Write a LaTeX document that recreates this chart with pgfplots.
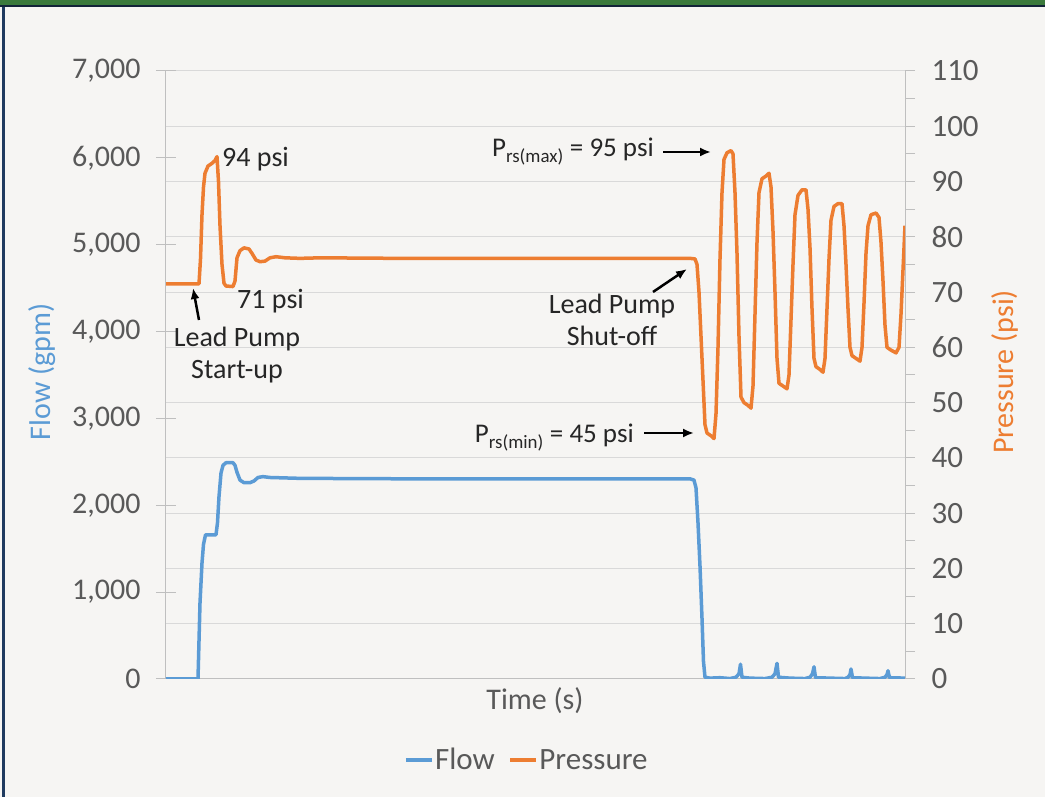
\documentclass[border=0pt]{standalone}
\usepackage{fontspec}
\setmainfont{Carlito}
\usepackage{pgfplots}
\pgfplotsset{compat=1.18}
\usetikzlibrary{arrows.meta}
\definecolor{flowc}{HTML}{5B9BD5}
\definecolor{presc}{HTML}{ED7D31}
\definecolor{tickc}{HTML}{595959}
\definecolor{gridc}{HTML}{D9D9D9}
\definecolor{axisc}{HTML}{BFBFBF}
\definecolor{bgc}{HTML}{F6F5F3}
\definecolor{greenb}{HTML}{3B7A3C}
\definecolor{navy}{HTML}{1F3A5F}
\newcommand{\tk}{\fontsize{30}{36}\selectfont}
\newcommand{\tkr}{\fontsize{31}{36}\selectfont}
\newcommand{\an}{\fontsize{28}{32}\selectfont}
\newcommand{\anp}{\fontsize{27}{32}\selectfont}
\begin{document}
\begin{tikzpicture}
\useasboundingbox (0,0) rectangle (1045pt,797pt);
\fill[bgc] (0,0) rectangle (1045pt,797pt);
\fill[greenb] (0,791pt) rectangle (1045pt,797pt);
\fill[navy!60!black] (0,789.5pt) rectangle (1045pt,791.5pt);
\fill[navy] (2pt,0) rectangle (4.5pt,790pt);

\begin{axis}[
  at={(166pt,118pt)}, anchor=south west, scale only axis,
  width=739pt, height=608pt,
  xmin=166, xmax=905, ymin=0, ymax=110,
  axis x line=none, axis y line*=right,
  axis line style={-, draw=axisc, line width=1pt},
  xtick=\empty,
  ytick={0,10,...,110}, minor y tick num=1,
  tick align=outside, major tick length=10pt, minor tick length=10pt,
  every tick/.style={draw=axisc, line width=1pt},
  ymajorgrids, grid style={draw=gridc, line width=1pt},
  /pgf/number format/assume math mode=true,
  ticklabel style={font=\tkr, text=tickc},
  yticklabel style={xshift=13pt},
  ylabel={Pressure (psi)},
  ylabel style={at={(axis description cs:1.1353,0.505)}, anchor=center, font=\tk, text=presc},
  legend style={at={(axis description cs:0.488,-0.133)}, anchor=center, draw=none, fill=none,
    legend columns=2, font=\fontsize{31}{36}\selectfont, text=tickc, inner sep=0pt,
    /tikz/every even column/.append style={column sep=12pt},
    nodes={inner xsep=1.5pt}},
  legend cell align=left,
  legend image code/.code={\draw[#1] (0pt,0pt) -- (26pt,0pt);},
]
\addlegendimage{flowc, line width=3.5pt}
\addlegendentry{Flow}
\addplot[presc, line width=3.5pt, line join=round] coordinates {
(166,71.5) (199,71.5) (200.5,76) (202,84) (203.5,89) (205,91.5) (208,92.8) (212,93.3) (215,93.8) (217,94.5)
(218.5,90) (220,82) (222,75) (224,71.6) (226,71.1) (233,71) (235,72) (237,76.2) (240,77.5) (244,78)
(249,77.8) (252,77) (256,75.8) (260,75.5) (265,75.6) (270,76.2) (276,76.4) (285,76.2) (300,76.1)
(320,76.2) (400,76.1) (500,76.1) (600,76.1) (690,76.1) (695,76) (697,75) (699,70) (701,62) (703,54)
(705,46) (707,44.5) (711,44) (714,43.5) (716,48) (718,60) (720,76) (722,88) (724,94) (727,95.2)
(731,95.6) (733,95) (735,88) (737,77) (739,62) (741,51) (744,50) (748,49.5) (751,49) (753,53)
(755,66) (757,79) (759,88) (762,90.5) (766,91) (769,91.5) (771,89) (773,81) (775,70) (777,58)
(779,53.5) (783,53) (787,52.5) (789,55) (791,65) (793,75) (795,84) (798,87.5) (802,88.5) (806,88.5)
(808,85) (810,78) (812,67) (814,58) (816,56.5) (820,56) (823,55.5) (825,58) (827,67) (829,76)
(831,83) (834,85.5) (838,86) (842,86) (844,82) (846,75) (848,67) (850,60) (852,58.5) (856,58)
(860,57.5) (862,60) (864,68) (866,77) (868,82) (871,84) (876,84.3) (879,83.5) (881,79) (883,72)
(885,64) (887,60) (891,59.5) (896,59) (899,60) (901,66) (903,74) (905,82)
};
\addlegendentry{Pressure}
\end{axis}

\begin{axis}[
  at={(166pt,118pt)}, anchor=south west, scale only axis,
  width=739pt, height=608pt,
  xmin=166, xmax=905, ymin=0, ymax=7000,
  axis x line*=bottom, axis y line*=left,
  axis line style={-, draw=axisc, line width=1pt},
  xtick=\empty,
  ytick={0,1000,...,7000},
  tick align=center, major tick length=20pt,
  every tick/.style={draw=axisc, line width=1pt},
  /pgf/number format/assume math mode=true,
  /pgf/number format/1000 sep={,},
  ticklabel style={font=\tk, text=tickc},
  yticklabel style={xshift=-12pt},
  ylabel={Flow (gpm)},
  ylabel style={at={(axis description cs:-0.168,0.505)}, anchor=center, font=\tk, text=flowc},
  xlabel={Time (s)},
  xlabel style={at={(axis description cs:0.4993,-0.036)}, anchor=center, font=\tk, text=tickc},
]
\addplot[flowc, line width=3.5pt, line join=round] coordinates {
(166,0) (198,0) (200,875) (202,1335) (203.5,1550) (205.5,1660) (216,1660) (217.5,1800) (219,2100)
(221,2370) (223,2460) (226,2490) (233,2490) (235,2460) (237,2380) (240,2290) (244,2260) (250,2260)
(254,2280) (258,2320) (263,2330) (270,2320) (300,2310) (400,2305) (500,2305) (600,2305) (690,2305)
(694,2290) (696,2200) (698,1800) (700,1300) (702,700) (703.5,200) (705,20) (710,10) (720,15) (730,5)
(736,20) (739,60) (740.5,170) (742,20) (750,10) (765,5) (772,20) (775,60) (777,180) (778.5,20)
(790,10) (805,5) (810,20) (812.5,60) (814,140) (815.5,15) (830,10) (845,5) (848,20) (850,50)
(851,115) (852.5,15) (865,10) (880,5) (885,20) (887,50) (888,95) (889.5,15) (905,10)
};
\end{axis}

\begin{scope}[x=1pt, y=-1pt, yshift=797pt, every node/.style={inner sep=0pt, font=\an, text=black!85}]
\node[anchor=base west] at (222,167) {94 psi};
\node[anchor=base west] at (237,309) {71 psi};
\node[anchor=base] at (237,347) {Lead Pump};
\node[anchor=base] at (237,379) {Start-up};
\node[anchor=base] at (612,314) {Lead Pump};
\node[anchor=base] at (612,346) {Shut-off};
\node[anchor=base east, font=\anp] at (654,157) {P\textsubscript{rs(max)} = 95 psi};
\node[anchor=base east, font=\anp] at (634,443) {P\textsubscript{rs(min)} = 45 psi};
\begin{scope}[black, line width=2.5pt, -{Latex[length=11pt,width=9pt]}]
\draw (199,320) -- (193,288);
\draw (653,292) -- (687,269);
\draw (663,152) -- (711,152);
\draw (644,433) -- (694,433);
\end{scope}
\end{scope}
\end{tikzpicture}
\end{document}
